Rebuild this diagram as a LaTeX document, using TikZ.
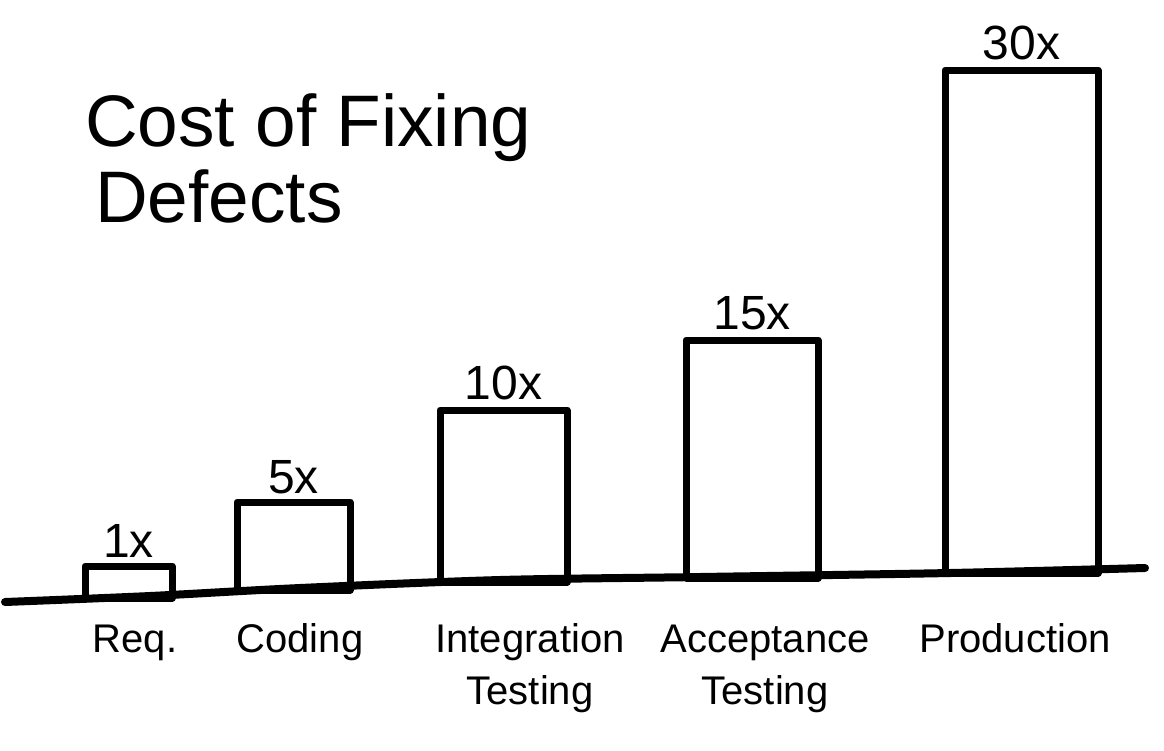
\documentclass[tikz,border=0pt]{standalone}
\usepackage{fontspec}
\setmainfont{Liberation Sans}
\usetikzlibrary{positioning}

\begin{document}
\begin{tikzpicture}[x=1pt,y=-1pt]
	\tikzstyle{bar}=[draw=black,line width=7pt,line join=round,minimum height=0pt,outer sep=0pt,inner sep=0pt,anchor=south]
	\tikzstyle{value}=[inner sep=0pt,font=\fontsize{48}{52}\selectfont]
	\tikzstyle{stage}=[inner sep=0pt,anchor=base,align=center,font=\fontsize{40}{52}\selectfont]
	\tikzstyle{axis}=[line width=8pt,line cap=round]
	\useasboundingbox (0,0) rectangle (1164,750);

	\node[anchor=base west,inner sep=0pt,font=\fontsize{73}{78}\selectfont](title1) at (85,146) {Cost of Fixing};
	\node[anchor=base west,inner sep=0pt,font=\fontsize{73}{78}\selectfont](title2) at (95,222) {Defects};

	\draw[axis] plot[smooth] coordinates {(5,602) (150,596) (300,588) (500,580) (700,577) (950,573) (1145,568)};

	\node[bar,minimum width=87pt,minimum height=32pt](b1) at (128.5,598) {};
	\node[bar,minimum width=113pt,minimum height=88pt](b2) at (293.5,590) {};
	\node[bar,minimum width=127pt,minimum height=172pt](b3) at (503.5,582) {};
	\node[bar,minimum width=132pt,minimum height=238pt](b4) at (752,578) {};
	\node[bar,minimum width=153pt,minimum height=503pt](b5) at (1021.5,573) {};

	\node[value,above=8pt of b1](c1) {1x};
	\node[value,above=8pt of b2](c2) {5x};
	\node[value,above=10pt of b3](c3) {10x};
	\node[value,above=10pt of b4](c4) {15x};
	\node[value,above=10pt of b5](c5) {30x};

	% two-line labels: base is the last line
	\node[stage](s1) at (135,652) {Req.};
	\node[stage](s2) at (300,652) {Coding};
	\node[stage](s3) at (530,704) {Integration\\Testing};
	\node[stage](s4) at (765,704) {Acceptance\\Testing};
	\node[stage](s5) at (1015,652) {Production};
\end{tikzpicture}
\end{document}
